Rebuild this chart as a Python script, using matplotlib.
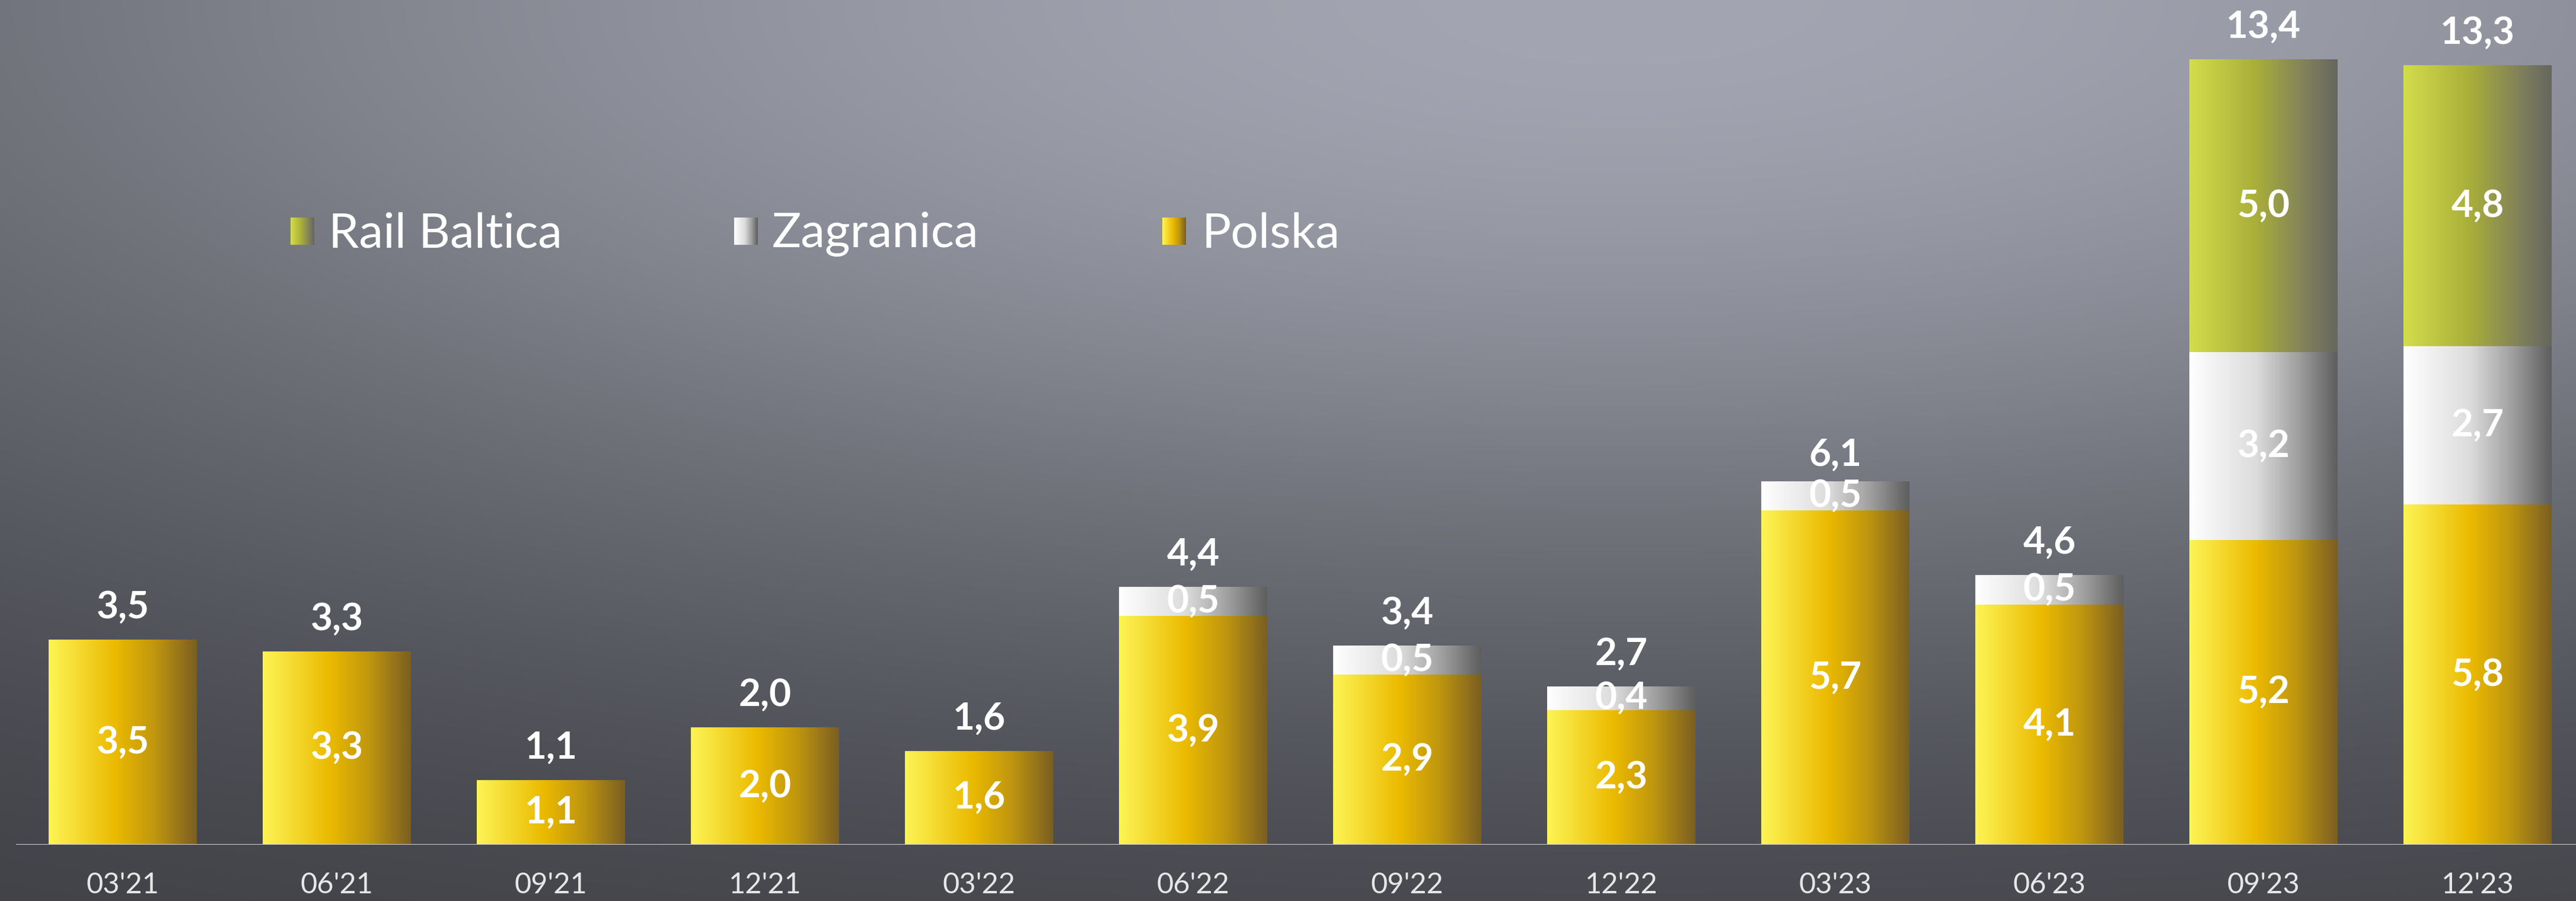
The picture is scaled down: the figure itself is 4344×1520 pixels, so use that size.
import matplotlib
matplotlib.use("Agg")
import matplotlib.pyplot as plt
import numpy as np
from matplotlib.colors import LinearSegmentedColormap

# Data (mld PLN)
quarters = ["03'21", "06'21", "09'21", "12'21", "03'22", "06'22",
            "09'22", "12'22", "03'23", "06'23", "09'23", "12'23"]
polska = [3.5, 3.3, 1.1, 2.0, 1.6, 3.9, 2.9, 2.3, 5.7, 4.1, 5.2, 5.8]
zagranica = [0, 0, 0, 0, 0, 0.5, 0.5, 0.4, 0.5, 0.5, 3.2, 2.7]
rail_baltica = [0, 0, 0, 0, 0, 0, 0, 0, 0, 0, 5.0, 4.8]
totals = [3.5, 3.3, 1.1, 2.0, 1.6, 4.4, 3.4, 2.7, 6.1, 4.6, 13.4, 13.3]

series_names = ["Rail Baltica", "Zagranica", "Polska"]

# Horizontal gradients for each series
cmaps = {
    "Polska": LinearSegmentedColormap.from_list("polska", [
        (0.0, "#fdf455"), (0.15, "#f7e13a"), (0.45, "#ebba00"),
        (0.72, "#bf960f"), (1.0, "#7b5f22")]),
    "Zagranica": LinearSegmentedColormap.from_list("zagr", [
        (0.0, "#ffffff"), (0.45, "#dcdcdc"), (0.75, "#9c9c9c"),
        (1.0, "#5e5e5f")]),
    "Rail Baltica": LinearSegmentedColormap.from_list("rail", [
        (0.0, "#d3dd4b"), (0.45, "#a9ae3a"), (0.8, "#7e7f5c"),
        (1.0, "#66665f")]),
}

W, H, DPI = 4344, 1520, 100
FONT = "Lato"


def fmt(v):
    """Polish decimal comma."""
    return f"{v:.1f}".replace(".", ",")


def _background(ax):
    """Grey backdrop, lighter at the top middle."""
    u = np.linspace(0, 1, 600)[None, :]
    t = np.linspace(0, 1, 300)[:, None]
    w = np.exp(-(((u - 0.63) / 0.8) ** 2 + (t / 0.72) ** 2))
    light = np.array([163, 166, 178]) / 255.0
    dark = np.array([58, 59, 64]) / 255.0
    img = dark + (light - dark) * w[..., None]
    ax.imshow(img, extent=[0, W, H, 0], aspect="auto", interpolation="bilinear")
    ax.set_xlim(0, W)
    ax.set_ylim(H, 0)
    ax.axis("off")


def _gradient_fill(ax, patch, cmap, zorder=2):
    """Fill a bar patch with a left-to-right gradient."""
    x0, w = patch.get_x(), patch.get_width()
    y0, h = patch.get_y(), patch.get_height()
    grad = np.linspace(0, 1, 256)[None, :]
    im = ax.imshow(grad, cmap=cmap, extent=[x0, x0 + w, y0, y0 + h],
                   aspect="auto", interpolation="bilinear", zorder=zorder)
    im.set_clip_path(patch)


fig = plt.figure(figsize=(W / DPI, H / DPI), dpi=DPI)

# Background axes in pixel coords
bg = fig.add_axes([0, 0, 1, 1])
_background(bg)

# Legend (drawn by hand with gradient swatches)
legend_pos = {"Rail Baltica": (490, 554), "Zagranica": (1238, 1302), "Polska": (1960, 2027)}
for name in series_names:
    mx, tx = legend_pos[name]
    grad = np.linspace(0, 1, 64)[None, :]
    bg.imshow(grad, cmap=cmaps[name], extent=[mx, mx + 40, 413, 367],
              aspect="auto", zorder=3)
    bg.text(tx, 417, name, color="white", fontsize=59, family=FONT,
            fontweight="normal", va="baseline", ha="left")
bg.set_xlim(0, W)
bg.set_ylim(H, 0)

# Main chart axes: bottom edge is the baseline
axis_y = 1425
ax = fig.add_axes([0, (H - axis_y) / H, 1, axis_y / H])
ax.patch.set_alpha(0)

x = np.arange(len(quarters))
width = 0.69
bottom = np.zeros(len(quarters))
stack = [("Polska", polska), ("Zagranica", zagranica), ("Rail Baltica", rail_baltica)]
for name, vals in stack:
    vals = np.array(vals, dtype=float)
    bars = ax.bar(x, vals, width=width, bottom=bottom, color="none", linewidth=0)
    for patch, v in zip(bars.patches, vals):
        if v <= 0:
            continue
        _gradient_fill(ax, patch, cmaps[name])
        ax.text(patch.get_x() + patch.get_width() / 2,
                patch.get_y() + patch.get_height() / 2, fmt(v),
                ha="center", va="center", color="white", fontsize=46,
                family=FONT, fontweight="bold", zorder=5)
    bottom = bottom + vals

# Totals above bars
for xi, tot in zip(x, totals):
    ax.text(xi, tot + 0.55, fmt(tot), ha="center", va="center", color="white",
            fontsize=46, family=FONT, fontweight="bold", zorder=5)

# Baseline
ax.axhline(0, xmin=28 / W, xmax=1, color="#cfcfcf", linewidth=2.2, zorder=4)

ax.set_xlim(-207 / 361, (W - 207) / 361)
ax.set_ylim(0, axis_y / 98.9)
ax.set_xticks(x)
ax.set_xticklabels(quarters, fontsize=35, family=FONT, color="#e6e6e6")
ax.tick_params(axis="x", length=0, pad=33)
ax.set_yticks([])
for s in ax.spines.values():
    s.set_visible(False)

fig.savefig("out.png", dpi=DPI)
